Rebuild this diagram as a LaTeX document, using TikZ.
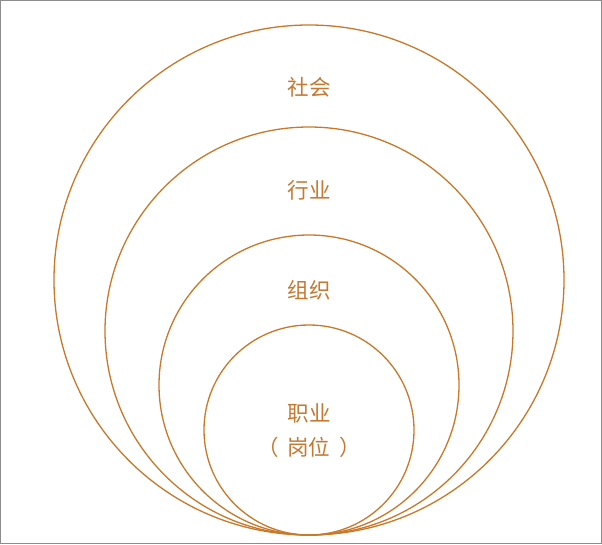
\documentclass[tikz,border=0pt]{standalone}
\usepackage{fontspec}
\newfontfamily\cjk{Noto Sans CJK SC}
\definecolor{ring}{RGB}{200,120,40}
\definecolor{txt}{RGB}{196,120,48}
\begin{document}
\begin{tikzpicture}[x=1pt,y=-1pt,
  ringc/.style={draw=ring,line width=1.3pt},
  lbl/.style={text=txt,font=\cjk\fontsize{21.5}{27}\selectfont,align=center,inner sep=0pt}]
\useasboundingbox (0,0) rectangle (602,544);
\draw[draw=gray!90,line width=1.2pt] (0.6,0.6) rectangle (601.4,543.4);
\node[ringc,circle,minimum size=510pt,inner sep=0pt] (c1) at (309,280) {};
\node[ringc,circle,minimum size=408pt,inner sep=0pt] (c2) at (309,331) {};
\node[ringc,circle,minimum size=300pt,inner sep=0pt] (c3) at (309,385) {};
\node[ringc,circle,minimum size=210pt,inner sep=0pt] (c4) at (309,430) {};
\node[lbl] (t1) at (309,87) {社会};
\node[lbl] (t2) at (309,190) {行业};
\node[lbl] (t3) at (309,290) {组织};
\node[lbl] (t4) at (309,413) {职业};
\node[lbl] (t5) at (309,447) {（\hspace{9pt}岗位\hspace{9pt}）};
\end{tikzpicture}
\end{document}
